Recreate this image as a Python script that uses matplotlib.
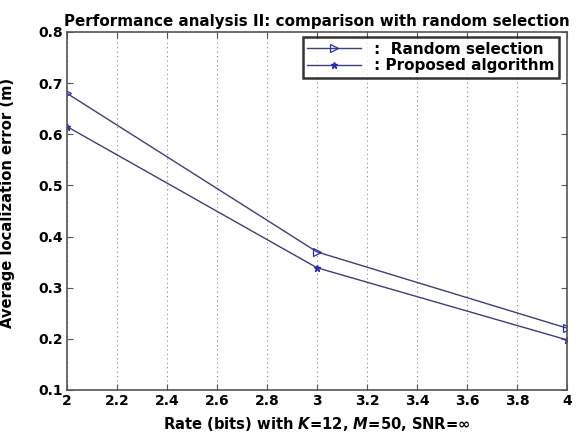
import numpy as np
import matplotlib
matplotlib.use("Agg")
import matplotlib.pyplot as plt

# data
rate = [2, 3, 4]
err_random = [0.680, 0.370, 0.221]
err_proposed = [0.615, 0.339, 0.198]
x_ticks = [2, 2.2, 2.4, 2.6, 2.8, 3, 3.2, 3.4, 3.6, 3.8, 4]
y_ticks = [0.1, 0.2, 0.3, 0.4, 0.5, 0.6, 0.7, 0.8]

plt.rcParams["font.family"] = ["DejaVu Sans"]
plt.rcParams["font.weight"] = "bold"
plt.rcParams["mathtext.fontset"] = "dejavusans"

line_c = "#3c3f78"
mark_c = "#2a2fb0"
spine_c = "#555555"

fig = plt.figure(figsize=(5.8, 4.34), dpi=100)
ax = fig.add_axes([0.1155, 0.1014, 0.862, 0.8249])

ax.plot(rate, err_random, "-", color=line_c, lw=1.0, marker=">",
        ms=6, mfc="none", mec=mark_c, mew=0.9, label=":  Random selection")
ax.plot(rate, err_proposed, "-", color=line_c, lw=1.0, marker="*",
        ms=5, mfc=mark_c, mec=mark_c, label=": Proposed algorithm")

ax.set_xlim(2, 4)
ax.set_ylim(0.1, 0.8)
ax.set_xticks(x_ticks)
ax.set_yticks(y_ticks)
ax.set_xticklabels([f"{v:g}" for v in x_ticks])
ax.set_yticklabels([f"{v:g}" for v in y_ticks])
ax.tick_params(direction="in", top=True, right=True, length=4,
               color=spine_c, labelsize=10, pad=3)
for lbl in ax.get_xticklabels() + ax.get_yticklabels():
    lbl.set_fontweight("bold")
for sp in ax.spines.values():
    sp.set_edgecolor(spine_c)
    sp.set_linewidth(1.2)

ax.grid(True, axis="x", ls=(0, (1, 3)), color="#888888", lw=0.8)

ax.set_title("Performance analysis II: comparison with random selection",
             fontsize=10.9, fontweight="bold", pad=4)
ax.set_xlabel(r"Rate (bits) with $\mathbfit{K}$=12, $\mathbfit{M}$=50, SNR=∞",
              fontsize=10.6, fontweight="bold", labelpad=5)
ax.set_ylabel("Average localization error (m)", fontsize=10.6,
              fontweight="bold")
ax.yaxis.set_label_coords(-0.104, 0.522)

leg = ax.legend(loc="upper right", bbox_to_anchor=(0.984, 0.986),
                frameon=True, fancybox=False, numpoints=1,
                handlelength=3.5, handletextpad=0.85, borderpad=0.3,
                labelspacing=0.1, borderaxespad=0.0,
                prop={"weight": "bold", "size": 11})
leg.get_frame().set_edgecolor("black")
leg.get_frame().set_linewidth(1.8)

fig.savefig("out.png", dpi=100)
